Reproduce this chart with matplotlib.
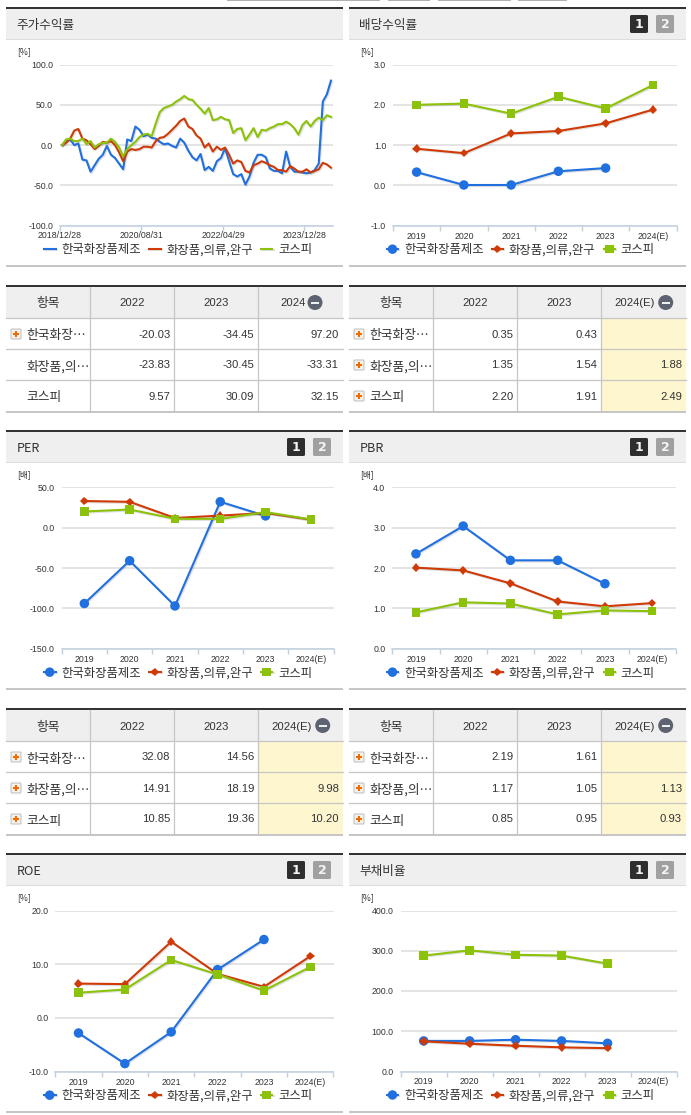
import numpy as np
import matplotlib
matplotlib.use("Agg")
import matplotlib.pyplot as plt
import matplotlib.patheffects as pe
from matplotlib.patches import Rectangle, FancyBboxPatch, Circle

plt.rcParams['font.family'] = ['Noto Sans CJK KR', 'DejaVu Sans']

W, H = 691, 1115
SERIES = ['한국화장품제조', '화장품,의류,완구', '코스피']
YEARS = ['2019', '2020', '2021', '2022', '2023', '2024(E)']
NAN = np.nan

# monthly stock return
RET_BLUE = [0, 5, 7, 0, 2, -18, -19, -33, -25, -17, -12, -1, -12, -16, -23, -30, 7, 5, 23, 19,
            11, 13, 9, 8, 4, 1, 2, -1, -3, 8, 3, -7, -15, -19, -11, -31, -27, -32, -20, -16,
            -4, -20, -36, -39, -36, -49, -39, -22, -12, -12, -15, -29, -32, -32, -35, -8, -27, -33, -33, -34,
            -35, -34, -31, -23, 54, 63, 80]
RET_RED = [0, 3, 8, 18, 20, 8, 6, 1, -5, -1, 4, 3, 5, 0, -9, -20, -8, -5, -6, -5,
           -2, -2, -3, 5, 9, 10, 14, 19, 24, 30, 33, 23, 20, 12, 8, -3, 2, -8, -2, -6,
           -3, -12, -23, -19, -21, -32, -34, -25, -23, -20, -22, -25, -27, -31, -31, -33, -26, -29, -33, -33,
           -30, -34, -32, -30, -22, -24, -28]
RET_GREEN = [0, 7, 8, 5, 5, 8, 1, 5, -3, 1, 3, 3, 8, 4, -3, -14, -5, 0, 4, 10,
             13, 14, 11, 27, 41, 46, 48, 50, 54, 57, 61, 57, 56, 50, 45, 39, 46, 31, 32, 35,
             32, 31, 15, 20, 21, 6, 13, 21, 10, 19, 18, 21, 23, 26, 26, 29, 26, 21, 13, 25,
             30, 23, 30, 34, 31, 37, 35]
RET_TICKS = ['2018/12/28', '2020/08/31', '2022/04/29', '2023/12/28']

DIV_BLUE = [0.33, 0.01, 0.01, 0.35, 0.43, NAN]
DIV_RED = [0.91, 0.80, 1.29, 1.35, 1.54, 1.88]
DIV_GREEN = [2.00, 2.03, 1.78, 2.20, 1.91, 2.49]

PER_BLUE = [-94, -41, -97, 32.08, 14.56, NAN]
PER_RED = [33, 32, 12, 14.91, 18.19, 9.98]
PER_GREEN = [20, 22.5, 11, 10.85, 19.36, 10.20]

PBR_BLUE = [2.35, 3.04, 2.19, 2.19, 1.61, NAN]
PBR_RED = [2.01, 1.94, 1.62, 1.17, 1.05, 1.13]
PBR_GREEN = [0.90, 1.15, 1.12, 0.85, 0.95, 0.93]

ROE_BLUE = [-2.8, -8.5, -2.6, 9.0, 14.6, NAN]
ROE_RED = [6.4, 6.3, 14.2, 8.2, 5.8, 11.5]
ROE_GREEN = [4.7, 5.3, 10.8, 8.1, 5.1, 9.5]

DEBT_BLUE = [76, 76, 79, 76, 70, NAN]
DEBT_RED = [75, 69, 64, 60, 58, NAN]
DEBT_GREEN = [288, 301, 290, 288, 268, NAN]

RET_ROWS = [['-20.03', '-34.45', '97.20'], ['-23.83', '-30.45', '-33.31'], ['9.57', '30.09', '32.15']]
DIV_ROWS = [['0.35', '0.43', ''], ['1.35', '1.54', '1.88'], ['2.20', '1.91', '2.49']]
PER_ROWS = [['32.08', '14.56', ''], ['14.91', '18.19', '9.98'], ['10.85', '19.36', '10.20']]
PBR_ROWS = [['2.19', '1.61', ''], ['1.17', '1.05', '1.13'], ['0.85', '0.95', '0.93']]
ROW_NAMES = ['한국화장…', '화장품,의…', '코스피']

BLUE = '#2070e0'
RED = '#cf3a06'
GREEN = '#8cc20a'
DARK = '#333333'
TEXT = '#333333'
GRID = '#dddddd'
AXIS = '#c0d0e0'
HEAD = '#efefef'
RULE = '#c6c6c6'
NOTE = '#fdf6cf'
PX = 0.72  # points per pixel at dpi 100

fig = plt.figure(figsize=(W / 100, H / 100), dpi=100, facecolor='white')
bg = fig.add_axes([0, 0, 1, 1])
bg.set_xlim(0, W)
bg.set_ylim(H, 0)
bg.axis('off')


def box(x0, y0, x1, y1, color):
    bg.add_patch(Rectangle((x0, y0), x1 - x0, y1 - y0, facecolor=color, edgecolor='none'))


def header(x0, x1, top, title, buttons):
    box(x0, top, x1, top + 31.5, HEAD)
    box(x0, top - 1, x1, top + 1, DARK)
    box(x0, top + 31, x1, top + 32, '#dcdcdc')
    bg.text(x0 + 10.5, top + 17.5, title, fontsize=9.1, color=TEXT, va='center', ha='left')
    if buttons:
        for bx, col, txt in ((x1 - 56, '#2e2e2e', '1'), (x1 - 30, '#a0a0a0', '2')):
            bg.add_patch(FancyBboxPatch((bx + 1, top + 8), 16, 16, boxstyle='round,pad=1,rounding_size=1.5',
                                        facecolor=col, edgecolor='none'))
            bg.text(bx + 9, top + 16.3, txt, fontsize=9, fontweight='bold', color='#f4f4f4',
                    family='DejaVu Sans', ha='center', va='center')


def chart(x0, x1, ytop, ybot, ymin, ymax, step, unit, unit_x, data, cats, xticks=None, lines_only=False):
    ax = fig.add_axes([x0 / W, 1 - ybot / H, (x1 - x0) / W, (ybot - ytop) / H], facecolor='none')
    n = len(data[0])
    xs = np.arange(n)
    ax.set_xlim(-0.5, n - 0.5)
    ax.set_ylim(ymin, ymax)
    ax.set_yticks(np.arange(ymin, ymax + step / 2, step))
    ax.set_yticklabels(['%.1f' % v for v in ax.get_yticks()], family='Liberation Sans', fontsize=6.3, color=TEXT)
    ax.tick_params(axis='y', length=0, pad=5)
    ax.grid(axis='y', color=GRID, linewidth=1.1)
    ax.set_axisbelow(True)
    for s in ('top', 'left', 'right'):
        ax.spines[s].set_visible(False)
    ax.spines['bottom'].set_color(AXIS)
    ax.spines['bottom'].set_linewidth(1.1)

    if xticks is None:
        ax.set_xticks(np.arange(n + 1) - 0.5)
        ax.set_xticklabels([])
        ax.set_xticks(xs, minor=True)
        ax.set_xticklabels(cats, minor=True, family='Liberation Sans', fontsize=6.3, color=TEXT)
        ax.tick_params(axis='x', which='minor', length=0, pad=4.3)
    else:
        ax.set_xticks(np.array(xticks) - 0.5)
        ax.set_xticklabels(cats, family='Liberation Sans', fontsize=6.3, color=TEXT)
    ax.tick_params(axis='x', which='major', length=4 * PX * 1.2, width=1.0, color=AXIS, pad=0.5)

    shadow = [pe.SimpleLineShadow(offset=(0.8, -0.8), alpha=0.18, shadow_color='#555555'), pe.Normal()]
    styles = [(BLUE, 'o', 9.5), (RED, 'D', 6), (GREEN, 's', 8.5)]
    for vals, name, (col, mk, ms) in zip(data, SERIES, styles):
        if lines_only:
            ax.plot(xs, vals, color=col, linewidth=1.5, label=name, path_effects=shadow, clip_on=False)
        else:
            ax.plot(xs, vals, color=col, linewidth=1.5, marker=mk, markersize=ms * PX, markeredgewidth=0,
                    label=name, path_effects=shadow, clip_on=False)

    # legend sits at a fixed distance under the axis
    cx = 178 if x0 < 345 else 520.8
    ax.legend(loc='center', bbox_to_anchor=(cx / W, 1 - (ybot + 24.3) / H), bbox_transform=fig.transFigure,
              ncol=3, frameon=False, fontsize=8.9, handlelength=0.95, handletextpad=0.45, columnspacing=0.65,
              borderpad=0, labelcolor=TEXT)
    bg.text(unit_x, ytop - 12.5, unit, fontsize=6.2, color=TEXT, ha='left', va='center')
    return ax


def plus_icon(x, y):
    bg.add_patch(FancyBboxPatch((x + 0.5, y + 0.5), 9, 9, boxstyle='round,pad=0.5,rounding_size=1',
                                facecolor='#f4f1ea', edgecolor='#bdbdbd', linewidth=0.7))
    box(x + 2, y + 4, x + 8, y + 6, '#f26a00')
    box(x + 4, y + 2, x + 6, y + 8, '#f26a00')


def table(x0, x1, cols, top, rows, last_head, minus_x, head_x, note, plus):
    heights = [top + 31.5, top + 62.5, top + 93.5, top + 125]
    box(x0, top, x1, heights[0], HEAD)
    if note:
        box(cols[2], heights[0], x1, heights[3], NOTE)
    box(x0, top - 1, x1, top + 1, DARK)
    for yy in heights[:3]:
        bg.plot([x0, x1], [yy, yy], color=RULE, linewidth=0.9)
    box(x0, heights[3] - 0.5, x1, heights[3] + 1.5, RULE)
    for cx in cols:
        bg.plot([cx, cx], [top + 1, heights[3]], color=RULE, linewidth=0.9)
    bg.text((x0 + cols[0]) / 2, top + 18, '항목', fontsize=9.2, color=TEXT, ha='center', va='center')
    for cx, label in zip(cols[:2], ['2022', '2023']):
        bg.text(cx + 42, top + 17.5, label, family='Liberation Sans', fontsize=8.1, color=TEXT, ha='center', va='center')
    bg.text(head_x, top + 17.5, last_head, family='Liberation Sans', fontsize=8.1, color=TEXT, ha='center', va='center')
    bg.add_patch(Circle((minus_x, top + 16.5), 7.5, facecolor='#5d6370', edgecolor='none'))
    box(minus_x - 4, top + 15.5, minus_x + 4, top + 17.5, '#f0f0f0')

    for r, vals in enumerate(rows):
        ymid = heights[r] + 17
        if plus[r]:
            plus_icon(x0 + 5, ymid - 5.5)
        bg.text(x0 + 20, ymid + 1.5, ROW_NAMES[r], fontsize=9.2, color=TEXT, ha='left', va='center')
        for c, v in enumerate(vals):
            right = (cols[c + 1] if c < 2 else x1) - 4
            bg.text(right, ymid, v, family='Liberation Sans', fontsize=8.1, color=TEXT, ha='right', va='center')


L0, L1 = 6, 343
R0, R1 = 349, 686
LCOLS = [90.3, 174.3, 258.3]
RCOLS = [433.3, 517.3, 601.3]

# bits of the page cut off by the crop at the very top
for a, b in ((227, 345), (345, 380), (388, 430), (438, 511), (518, 567)):
    box(a, 0, b, 1.3, '#b0b0b0')

# row 1
header(L0, L1, 8, '주가수익률', False)
header(R0, R1, 8, '배당수익률', True)
chart(60, 333, 64.5, 225.7, -100, 100, 50, '[%]', 17, [RET_BLUE, RET_RED, RET_GREEN], RET_TICKS,
      xticks=[0, 20, 40, 60], lines_only=True)
chart(393, 676.5, 64.5, 225.7, -1, 3, 1, '[%]', 360, [DIV_BLUE, DIV_RED, DIV_GREEN], YEARS)
box(L0, 265, L1, 267, RULE)
box(R0, 265, R1, 267, RULE)

table(L0, L1, LCOLS, 286, RET_ROWS, '2024', 315, 293, False, [True, False, False])
table(R0, R1, RCOLS, 286, DIV_ROWS, '2024(E)', 665.7, 635, True, [True, True, True])

# row 2
header(L0, L1, 431, 'PER', True)
header(R0, R1, 431, 'PBR', True)
chart(61.7, 333.5, 487.3, 648.7, -150, 50, 50, '[배]', 17, [PER_BLUE, PER_RED, PER_GREEN], YEARS)
chart(392.3, 675.8, 487.3, 648.7, 0, 4, 1, '[배]', 360, [PBR_BLUE, PBR_RED, PBR_GREEN], YEARS)
box(L0, 688, L1, 690, RULE)
box(R0, 688, R1, 690, RULE)

table(L0, L1, LCOLS, 709, PER_ROWS, '2024(E)', 322.7, 292, True, [True, True, True])
table(R0, R1, RCOLS, 709, PBR_ROWS, '2024(E)', 665.7, 635, True, [True, True, True])

# row 3
header(L0, L1, 854, 'ROE', True)
header(R0, R1, 854, '부채비율', True)
chart(55.3, 333.5, 910.5, 1071.7, -10, 20, 10, '[%]', 17, [ROE_BLUE, ROE_RED, ROE_GREEN], YEARS)
chart(400.7, 676.5, 910.5, 1071.5, 0, 400, 100, '[%]', 360, [DEBT_BLUE, DEBT_RED, DEBT_GREEN], YEARS)
box(L0, 1111, L1, 1113, RULE)
box(R0, 1111, R1, 1113, RULE)

fig.savefig('out.png', dpi=100, facecolor='white')
